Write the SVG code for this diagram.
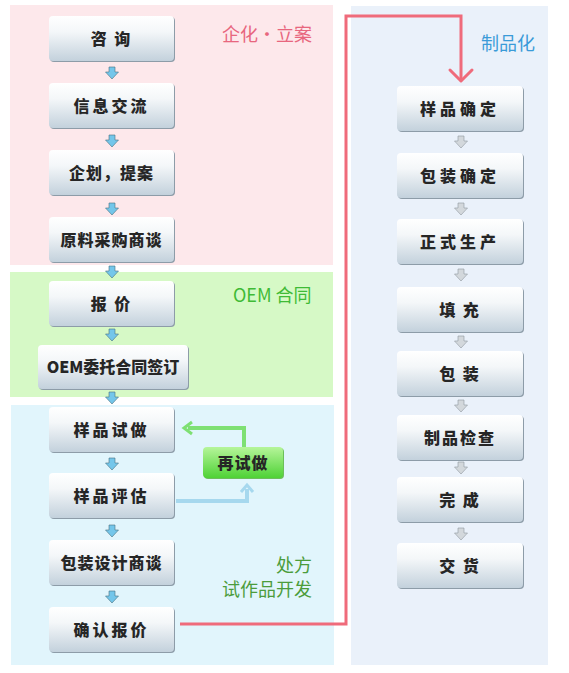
<svg xmlns="http://www.w3.org/2000/svg" width="569" height="673" viewBox="0 0 569 673">
<defs>
<linearGradient id="boxg" x1="0" y1="0" x2="0" y2="1">
<stop offset="0" stop-color="#ffffff"/>
<stop offset="0.35" stop-color="#f4f7f9"/>
<stop offset="1" stop-color="#c3d1dc"/>
</linearGradient>
<linearGradient id="greeng" x1="0" y1="0" x2="0" y2="1">
<stop offset="0" stop-color="#b6f59a"/>
<stop offset="1" stop-color="#4fd236"/>
</linearGradient>
<path id="arrowB" d="M-3,0 H3 V5 H6.5 L0,12 L-6.5,5 H-3 Z"/>
</defs>
<style>
.panel{stroke:none}
.shadow{fill:#8d9ca8}
.box{fill:url(#boxg)}
.lbl{font-family:"Noto Sans CJK SC","Noto Sans CJK JP",sans-serif;font-weight:900;font-size:16px;fill:#262626;text-anchor:middle;dominant-baseline:central}
.sa{fill:#74c6ea;stroke:#47707f;stroke-width:0.6}
.ga{fill:#d3d8dc;stroke:#8f979e;stroke-width:0.6}
.title{font-family:"Noto Sans CJK SC","Noto Sans CJK JP",sans-serif;font-size:18px}
</style>
<rect width="569" height="673" fill="#ffffff"/>
<g id="panels">
<rect class="panel" x="10" y="5" width="323" height="260" fill="#fde8eb"/>
<rect class="panel" x="10" y="272" width="323" height="125" fill="#d6f9c6"/>
<rect class="panel" x="11" y="405" width="323" height="260" fill="#e1f5fc"/>
<rect class="panel" x="351" y="6" width="197" height="659" fill="#eaf1fa"/>
</g>
<g id="titles">
<text class="title" x="222" y="41" fill="#e8667e">企化・立案</text>
<text class="title" x="233" y="302" fill="#3fbb36" font-size="17">OEM 合同</text>
<text class="title" x="481" y="50" fill="#3a9bd8">制品化</text>
<text class="title" x="312" y="572" fill="#4b9c3b" text-anchor="end">处方</text>
<text class="title" x="312" y="596" fill="#4b9c3b" text-anchor="end">试作品开发</text>
</g>
<g id="connectors">
<g id="small-arrows-left" class="sa">
<use href="#arrowB" x="112" y="67"/>
<use href="#arrowB" x="112" y="135"/>
<use href="#arrowB" x="112" y="203"/>
<use href="#arrowB" x="112" y="266"/>
<use href="#arrowB" x="112" y="329"/>
<use href="#arrowB" x="112" y="392"/>
<use href="#arrowB" x="112" y="458"/>
<use href="#arrowB" x="112" y="525"/>
<use href="#arrowB" x="112" y="591"/>
</g>
<g id="small-arrows-right" class="ga">
<use href="#arrowB" x="461" y="136"/>
<use href="#arrowB" x="461" y="203"/>
<use href="#arrowB" x="461" y="269"/>
<use href="#arrowB" x="461" y="336"/>
<use href="#arrowB" x="461" y="400"/>
<use href="#arrowB" x="461" y="462"/>
<use href="#arrowB" x="461" y="528"/>
</g>
<path d="M180,624 H346 V16 H461 V80" fill="none" stroke="#ef6b7b" stroke-width="3"/>
<polyline points="450,70 461,81 472,70" fill="none" stroke="#ef6b7b" stroke-width="3" stroke-linecap="round" stroke-linejoin="round"/>
<path d="M244,447 V428 H188" fill="none" stroke="#7ee073" stroke-width="4"/>
<polyline points="192,422 184,428 192,434" fill="none" stroke="#7ee073" stroke-width="3"/>
<path d="M176,501 H247 V489" fill="none" stroke="#a6d8ee" stroke-width="4"/>
<polyline points="241,492 247,485 253,492" fill="none" stroke="#a6d8ee" stroke-width="3"/>
</g>
<g id="n1"><rect class="shadow" x="50" y="17" width="125" height="45" rx="4"/><rect class="box" x="49" y="16" width="125" height="45" rx="4"/><text class="lbl" x="111.5" y="37.5" letter-spacing="2">咨 询</text></g>
<g id="n2"><rect class="shadow" x="50" y="84" width="125" height="45" rx="4"/><rect class="box" x="49" y="83" width="125" height="45" rx="4"/><text class="lbl" x="111.5" y="104.5" letter-spacing="3">信息交流</text></g>
<g id="n3"><rect class="shadow" x="50" y="151" width="125" height="45" rx="4"/><rect class="box" x="49" y="150" width="125" height="45" rx="4"/><text class="lbl" x="111.5" y="171.5" letter-spacing="1">企划，提案</text></g>
<g id="n4"><rect class="shadow" x="50" y="218" width="125" height="45" rx="4"/><rect class="box" x="49" y="217" width="125" height="45" rx="4"/><text class="lbl" x="111.5" y="238.5" letter-spacing="1">原料采购商谈</text></g>
<g id="n5"><rect class="shadow" x="50" y="282" width="125" height="45" rx="4"/><rect class="box" x="49" y="281" width="125" height="45" rx="4"/><text class="lbl" x="111.5" y="302.5" letter-spacing="2">报 价</text></g>
<g id="n6"><rect class="shadow" x="39" y="346" width="150" height="44" rx="4"/><rect class="box" x="38" y="345" width="150" height="44" rx="4"/><text class="lbl" x="113" y="366">OEM委托合同签订</text></g>
<g id="n7"><rect class="shadow" x="50" y="408" width="125" height="45" rx="4"/><rect class="box" x="49" y="407" width="125" height="45" rx="4"/><text class="lbl" x="111.5" y="428.5" letter-spacing="3">样品试做</text></g>
<g id="n8"><rect class="shadow" x="50" y="474" width="125" height="45" rx="4"/><rect class="box" x="49" y="473" width="125" height="45" rx="4"/><text class="lbl" x="111.5" y="494.5" letter-spacing="3">样品评估</text></g>
<g id="n9"><rect class="shadow" x="50" y="541" width="125" height="45" rx="4"/><rect class="box" x="49" y="540" width="125" height="45" rx="4"/><text class="lbl" x="111.5" y="561.5" letter-spacing="1">包装设计商谈</text></g>
<g id="n10"><rect class="shadow" x="50" y="608" width="125" height="45" rx="4"/><rect class="box" x="49" y="607" width="125" height="45" rx="4"/><text class="lbl" x="111.5" y="628.5" letter-spacing="3">确认报价</text></g>
<g id="n11"><rect x="204" y="448" width="80" height="31" rx="4" fill="#6cbf5a"/><rect x="203" y="447" width="80" height="31" rx="4" fill="url(#greeng)"/><text class="lbl" x="243" y="461.5" letter-spacing="1">再试做</text></g>
<g id="r1"><rect class="shadow" x="398" y="87" width="126" height="45" rx="4"/><rect class="box" x="397" y="86" width="126" height="45" rx="4"/><text class="lbl" x="460" y="107.5" letter-spacing="4">样品确定</text></g>
<g id="r2"><rect class="shadow" x="398" y="154" width="126" height="45" rx="4"/><rect class="box" x="397" y="153" width="126" height="45" rx="4"/><text class="lbl" x="460" y="174.5" letter-spacing="4">包装确定</text></g>
<g id="r3"><rect class="shadow" x="398" y="220" width="126" height="45" rx="4"/><rect class="box" x="397" y="219" width="126" height="45" rx="4"/><text class="lbl" x="460" y="240.5" letter-spacing="4">正式生产</text></g>
<g id="r4"><rect class="shadow" x="398" y="288" width="126" height="45" rx="4"/><rect class="box" x="397" y="287" width="126" height="45" rx="4"/><text class="lbl" x="460" y="308.5" letter-spacing="2">填 充</text></g>
<g id="r5"><rect class="shadow" x="398" y="352" width="126" height="45" rx="4"/><rect class="box" x="397" y="351" width="126" height="45" rx="4"/><text class="lbl" x="460" y="372.5" letter-spacing="2">包 装</text></g>
<g id="r6"><rect class="shadow" x="398" y="416" width="126" height="45" rx="4"/><rect class="box" x="397" y="415" width="126" height="45" rx="4"/><text class="lbl" x="460" y="436.5" letter-spacing="2">制品检查</text></g>
<g id="r7"><rect class="shadow" x="398" y="478" width="126" height="45" rx="4"/><rect class="box" x="397" y="477" width="126" height="45" rx="4"/><text class="lbl" x="460" y="498.5" letter-spacing="2">完 成</text></g>
<g id="r8"><rect class="shadow" x="398" y="544" width="126" height="45" rx="4"/><rect class="box" x="397" y="543" width="126" height="45" rx="4"/><text class="lbl" x="460" y="564.5" letter-spacing="2">交 货</text></g>
</svg>
